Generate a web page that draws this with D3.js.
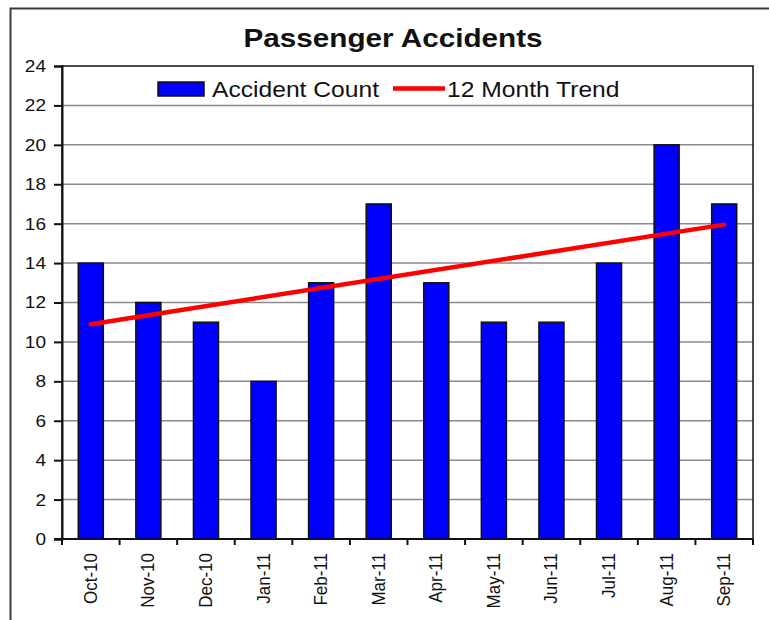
<!DOCTYPE html>
<html>
<head>
<meta charset="utf-8">
<script src="https://cdn.jsdelivr.net/npm/d3@7"></script>
<style>
  html, body { margin: 0; padding: 0; background: #fff; }
  svg { display: block; }
  text { font-family: "Liberation Sans", Arial, sans-serif; fill: #111; }
</style>
</head>
<body>
<svg id="chart" width="769" height="620"></svg>
<script>
// ---- data ----
const categories = ["Oct-10","Nov-10","Dec-10","Jan-11","Feb-11","Mar-11","Apr-11","May-11","Jun-11","Jul-11","Aug-11","Sep-11"];
const accidentCount = [14, 12, 11, 8, 13, 17, 13, 11, 11, 14, 20, 17];
const trendCategories = ["Oct-10", "Sep-11"];
const trendValues = [10.9, 15.95];
const yTicks = [0, 2, 4, 6, 8, 10, 12, 14, 16, 18, 20, 22, 24];
const title = "Passenger Accidents";
const seriesNames = ["Accident Count", "12 Month Trend"];

// ---- layout ----
const W = 769, H = 620;
const plot = { left: 62, right: 753, top: 66, bottom: 539 };
const SX = 1.12; // horizontal text stretch of the source image

const svg = d3.select("#chart");

// outer frame
svg.append("rect")
  .attr("x", 10.5).attr("y", 8.5)
  .attr("width", W + 20).attr("height", H + 20)
  .attr("fill", "#fff").attr("stroke", "#3a3a3a").attr("stroke-width", 2);

const x = d3.scaleBand().domain(categories).range([plot.left, plot.right])
  .paddingInner(0.565).paddingOuter(0.2825);
const xBand = d3.scaleBand().domain(categories).range([plot.left, plot.right]);
const y = d3.scaleLinear().domain([0, 24]).range([plot.bottom, plot.top]);

// gridlines
svg.append("g").selectAll("line")
  .data(yTicks.filter(t => t > 0 && t < 24))
  .join("line")
  .attr("x1", plot.left).attr("x2", plot.right)
  .attr("y1", d => y(d)).attr("y2", d => y(d))
  .attr("stroke", "#8a8a8a").attr("stroke-width", 1.5);

// plot area border
svg.append("rect")
  .attr("x", plot.left).attr("y", plot.top)
  .attr("width", plot.right - plot.left).attr("height", plot.bottom - plot.top)
  .attr("fill", "none").attr("stroke", "#111").attr("stroke-width", 1.5);

// y axis
const yAxis = d3.axisLeft(y).tickValues(yTicks).tickSize(8).tickPadding(8).tickFormat(d3.format("d"));
const gy = svg.append("g").attr("transform", `translate(${plot.left},0)`).call(yAxis);
gy.select(".domain").attr("stroke", "#111").attr("stroke-width", 2);
gy.selectAll(".tick line").attr("stroke", "#111").attr("stroke-width", 2);
gy.selectAll(".tick text").each(function() {
  const t = d3.select(this);
  const xx = +t.attr("x") || -16;
  t.attr("x", null)
   .attr("transform", `translate(${xx},0) scale(${SX},1)`)
   .attr("font-size", 17).attr("fill", "#111");
});

// x axis: ticks at band boundaries
const boundaries = categories.map(c => xBand(c)).concat([plot.right]);
svg.append("g").selectAll("line").data(boundaries).join("line")
  .attr("x1", d => d).attr("x2", d => d)
  .attr("y1", plot.bottom).attr("y2", plot.bottom + 6)
  .attr("stroke", "#111").attr("stroke-width", 2);
svg.append("line")
  .attr("x1", plot.left - 8).attr("x2", plot.right)
  .attr("y1", plot.bottom).attr("y2", plot.bottom)
  .attr("stroke", "#111").attr("stroke-width", 2);

svg.append("g").selectAll("text").data(categories).join("text")
  .attr("transform", d => `translate(${xBand(d) + xBand.bandwidth() / 2 + 6},553) scale(${SX},1) rotate(-90)`)
  .attr("text-anchor", "end")
  .attr("font-size", 17)
  .text(d => d);

// bars
svg.append("g").selectAll("rect").data(categories).join("rect")
  .attr("x", d => x(d))
  .attr("y", (d, i) => y(accidentCount[i]))
  .attr("width", x.bandwidth())
  .attr("height", (d, i) => y(0) - y(accidentCount[i]))
  .attr("fill", "#0000ff")
  .attr("stroke", "#111").attr("stroke-width", 1.5);

// trend line
const line = d3.line()
  .x((d, i) => xBand(trendCategories[i]) + xBand.bandwidth() / 2)
  .y(d => y(d));
svg.append("path").datum(trendValues)
  .attr("d", line)
  .attr("fill", "none").attr("stroke", "#ff0000").attr("stroke-width", 4.5)
  .attr("stroke-linecap", "round");

// legend
const lg = svg.append("g");
lg.append("rect").attr("x", 152).attr("y", 72).attr("width", 485).attr("height", 32).attr("fill", "#fff");
lg.append("rect").attr("x", 158).attr("y", 82).attr("width", 46).attr("height", 14)
  .attr("fill", "#0000ff").attr("stroke", "#111").attr("stroke-width", 1.5);
lg.append("text").attr("transform", `translate(212,97) scale(${SX},1)`)
  .attr("font-size", 22).text(seriesNames[0]);
lg.append("line").attr("x1", 393).attr("x2", 445).attr("y1", 88.5).attr("y2", 88.5)
  .attr("stroke", "#ff0000").attr("stroke-width", 4.5);
lg.append("text").attr("transform", `translate(447,97) scale(${SX},1)`)
  .attr("font-size", 22).text(seriesNames[1]);

// title
svg.append("text").attr("transform", `translate(393,47) scale(${SX},1)`)
  .attr("text-anchor", "middle").attr("font-size", 26.5).attr("font-weight", "bold")
  .text(title);
</script>
</body>
</html>
